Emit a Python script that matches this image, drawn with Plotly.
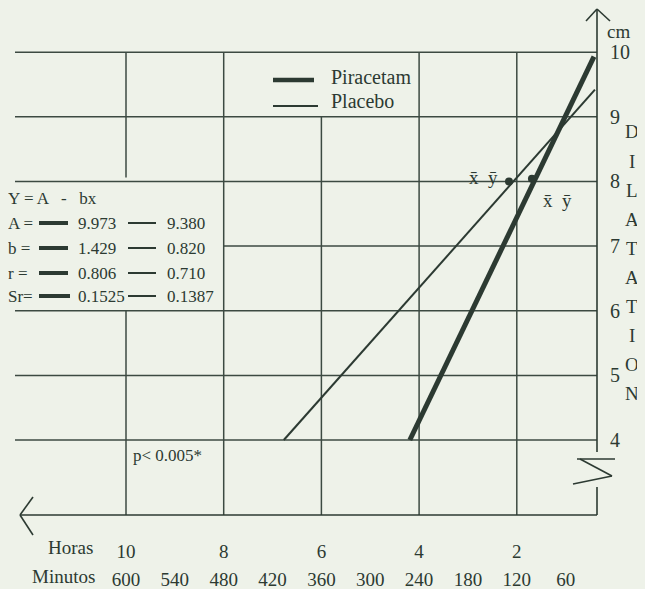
import plotly.graph_objects as go

# ---------------- data ----------------
hour_ticks = [10, 8, 6, 4, 2]
minute_ticks = [600, 540, 480, 420, 360, 300, 240, 180, 120, 60]
cm_ticks = [4, 5, 6, 7, 8, 9, 10]

piracetam_hours = [4.19, 0.42]
piracetam_cm = [4.0, 9.93]
placebo_hours = [6.77, 0.40]
placebo_cm = [4.0, 9.42]

piracetam_mean = (1.69, 8.04)
placebo_mean = (2.16, 8.00)

stat_names = ["A =", "b =", "r =", "Sr="]
piracetam_stats = ["9.973", "1.429", "0.806", "0.1525"]
placebo_stats = ["9.380", "0.820", "0.710", "0.1387"]

# ---------------- geometry / style ----------------
OFF = 8                      # page body margin
W, H = 645 - OFF, 589 - OFF
ML, MR, MT, MB = 0, 10, 0, 60
PW, PH = W - ML - MR, H - MT - MB
PX0, PXH = 614.5, 48.85      # (reference px) of 0 h, pixels per hour
PY7, PYC = 246.1, 64.64      # (reference px) of 7 cm, pixels per cm

def hx(px):
    return (PX0 - px) / PXH

def vy(py):
    return 7 + (PY7 - py) / PYC

def xp(px):
    return (px - OFF - ML) / PW

def yp(py):
    return (PH - (py - OFF - MT)) / PH

BG = "#eef2e9"
INK = "#2c3a32"
GRID = "#3c4a42"
FONT = "Liberation Serif, Times New Roman, serif"

x_range = [hx(OFF + ML), hx(OFF + W - MR)]
y_range = [vy(OFF + MT + PH), vy(OFF + MT)]
AX_X = hx(597)
AX_Y = vy(515)
LEFT_X = hx(15)

fig = go.Figure()

fig.add_trace(go.Scatter(x=piracetam_hours, y=piracetam_cm, mode="lines",
                         line=dict(color=INK, width=5), name="Piracetam",
                         showlegend=False))
fig.add_trace(go.Scatter(x=placebo_hours, y=placebo_cm, mode="lines",
                         line=dict(color=INK, width=2), name="Placebo",
                         showlegend=False))
fig.add_trace(go.Scatter(x=[placebo_mean[0], piracetam_mean[0]],
                         y=[placebo_mean[1], piracetam_mean[1]], mode="markers",
                         marker=dict(color=INK, size=8), showlegend=False))
# minute axis (overlaid)
fig.add_trace(go.Scatter(x=[m / 60 for m in minute_ticks], y=[None] * len(minute_ticks),
                         xaxis="x2", mode="markers", showlegend=False))

shapes = []

def seg(x0, y0, x1, y1, ref="data", width=1.5, color=GRID):
    if ref == "data":
        shapes.append(dict(type="line", xref="x", yref="y", x0=x0, y0=y0, x1=x1, y1=y1,
                           line=dict(color=color, width=width), layer="below"))
    else:
        shapes.append(dict(type="line", xref="paper", yref="paper",
                           x0=xp(x0), y0=yp(y0), x1=xp(x1), y1=yp(y1),
                           line=dict(color=color, width=width), layer="above"))

# horizontal grid
for v in cm_ticks:
    if v == 7:
        seg(8, v, AX_X, v)
    else:
        seg(LEFT_X, v, AX_X, v)
# vertical grid
for h in hour_ticks:
    if h == 10:
        seg(h, 10, h, 8.06)
        seg(h, 6, h, AX_Y)
    elif h == 6:
        seg(h, 9, h, AX_Y)
    else:
        seg(h, 10, h, AX_Y)

# axes
seg(597, 9, 597, 452, ref="paper", width=1.6, color=INK)
seg(597, 487, 597, 515, ref="paper", width=1.6, color=INK)
seg(20, 515, 597, 515, ref="paper", width=1.6, color=INK)
# arrows
seg(20, 515, 33, 497, ref="paper", width=1.6, color=INK)
seg(20, 515, 33, 535, ref="paper", width=1.6, color=INK)
seg(597, 9, 586, 21, ref="paper", width=1.6, color=INK)
seg(597, 9, 610, 21, ref="paper", width=1.6, color=INK)
# axis break
seg(577, 459, 615, 459, ref="paper", width=1.6, color=INK)
seg(580, 459, 612, 476, ref="paper", width=1.6, color=INK)
seg(612, 476, 573, 484, ref="paper", width=1.6, color=INK)

annotations = []

def txt(s, x, y, size=17, anchor="left"):
    annotations.append(dict(text=s, xref="paper", yref="paper", x=xp(x), y=yp(y),
                            xanchor=anchor, yanchor="middle", showarrow=False,
                            font=dict(family=FONT, size=size, color=INK)))

# legend
seg(273, 80, 314, 80, ref="paper", width=4.5, color=INK)
seg(273, 106, 318, 106, ref="paper", width=2, color=INK)
txt("Piracetam", 329, 77, 20)
txt("Placebo", 329, 101, 20)

# statistics block
txt("Y = A   -   bx", 6, 199, 17)
rows_y = [223, 248, 273, 296]
for name, a, b, y in zip(stat_names, piracetam_stats, placebo_stats, rows_y):
    txt(name, 6, y, 17)
    seg(39, y, 70 if name == "Sr=" else 68, y, ref="paper", width=4, color=INK)
    txt(a, 76, y, 17)
    seg(128, y, 156, y, ref="paper", width=2, color=INK)
    txt(b, 165, y, 17)

txt("p< 0.005*", 131, 455, 17)

# mean labels
txt("x\u0304  y\u0304", 467, 177, 19)
txt("x\u0304  y\u0304", 541, 201, 19)

# axis titles
txt("cm", 605, 31, 19)
for i, ch in enumerate("DILATATION"):
    txt(ch, 632, 132 + i * 29.0, 19, anchor="center")
txt("Horas", 46, 547, 19)
txt("Minutos", 30, 576, 19)

fig.update_layout(
    width=W, height=H,
    margin=dict(l=ML, r=MR, t=MT, b=MB),
    paper_bgcolor=BG, plot_bgcolor=BG,
    showlegend=False,
    shapes=shapes, annotations=annotations,
    xaxis=dict(range=x_range, showgrid=False, zeroline=False, showline=False,
               tickvals=hour_ticks, ticktext=[str(h) for h in hour_ticks],
               ticks="outside", ticklen=5, tickcolor="rgba(0,0,0,0)",
               tickfont=dict(family=FONT, size=19, color=INK)),
    xaxis2=dict(range=x_range, overlaying="x", anchor="y", side="bottom",
                showgrid=False, zeroline=False, showline=False,
                tickvals=[m / 60 for m in minute_ticks],
                ticktext=[str(m) for m in minute_ticks],
                ticks="outside", ticklen=33, tickcolor="rgba(0,0,0,0)",
                tickfont=dict(family=FONT, size=19, color=INK)),
    yaxis=dict(range=y_range, showgrid=False, zeroline=False, showline=False,
               anchor="free", position=xp(597), side="right",
               tickvals=cm_ticks, ticktext=[str(v) for v in cm_ticks],
               ticks="outside", ticklen=8, tickcolor="rgba(0,0,0,0)",
               tickfont=dict(family=FONT, size=20, color=INK)),
)

fig.write_html("out.html",
               post_script="document.body.style.background='%s';" % BG)
